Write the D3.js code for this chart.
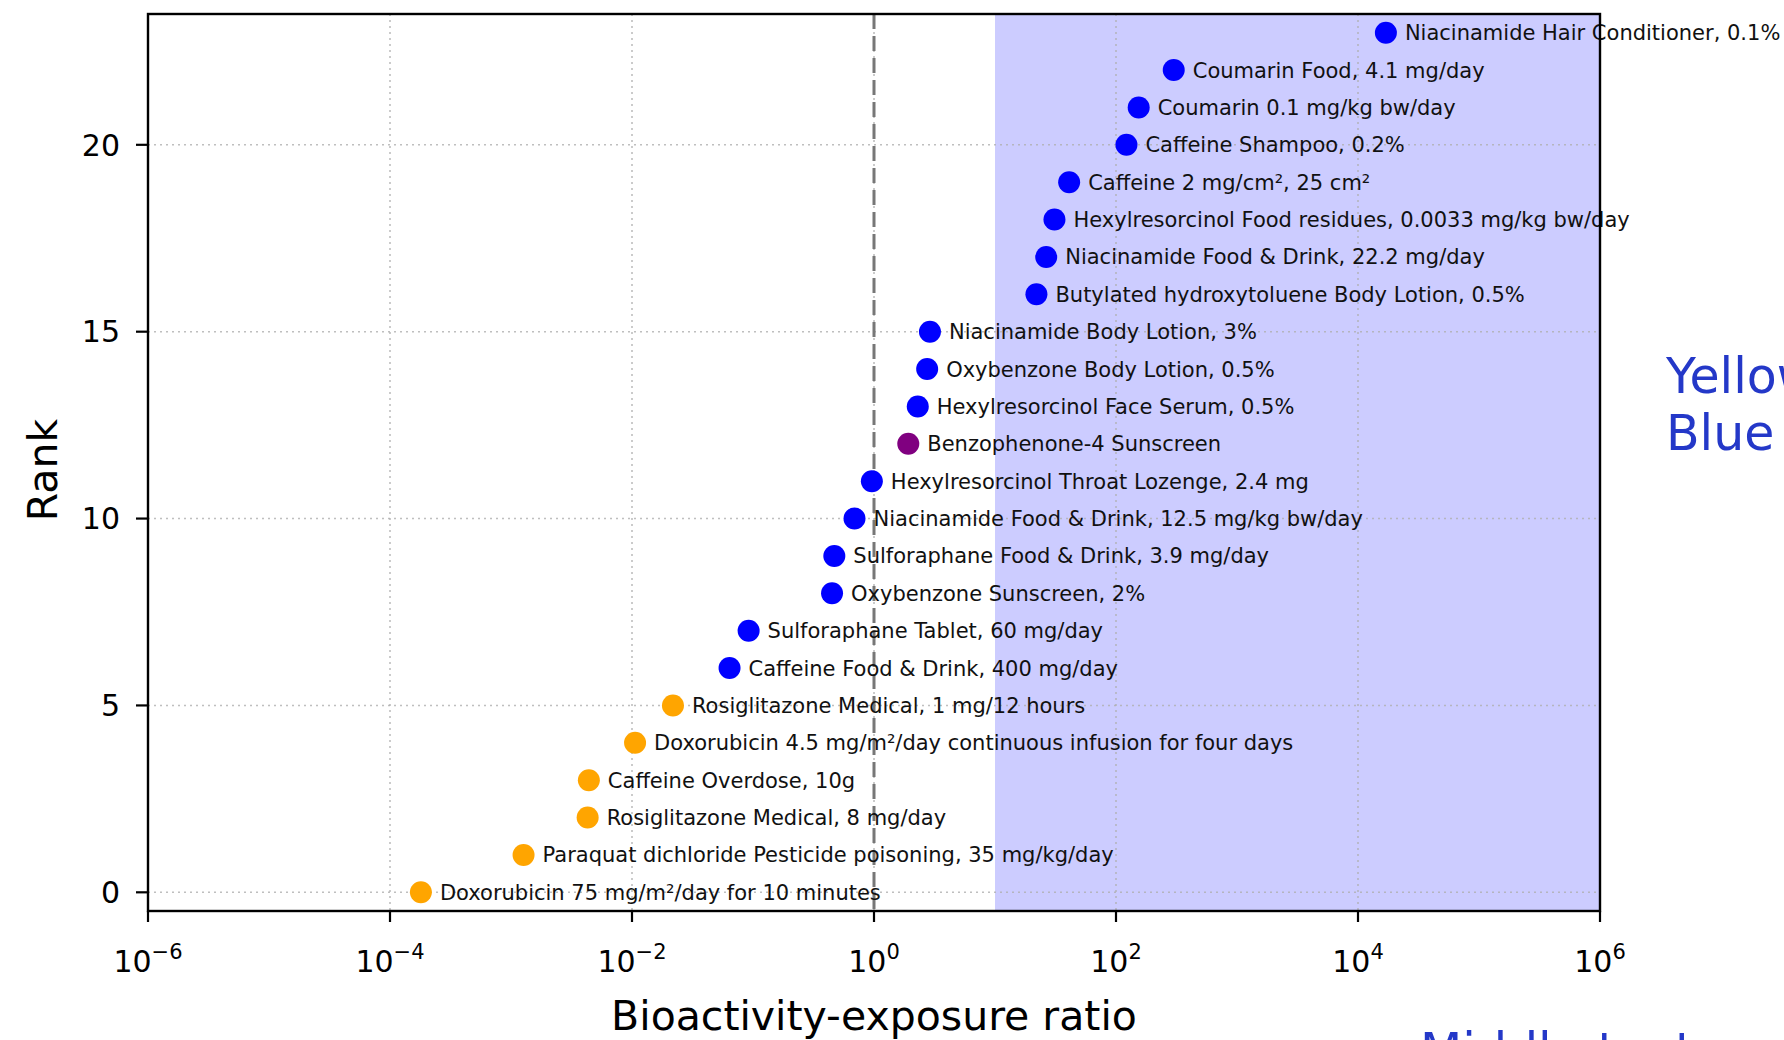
<!DOCTYPE html>
<html>
<head>
<meta charset="utf-8">
<script src="https://cdn.jsdelivr.net/npm/d3@7"></script>
<style>
  html, body { margin: 0; padding: 0; background: #ffffff; }
  svg { display: block; }
  text { font-family: "DejaVu Sans", sans-serif; }
</style>
</head>
<body>
<svg id="chart" width="1784" height="1040"></svg>
<script>
// Exposure scenarios, ordered by rank (0 = lowest ratio)
const scenarioLabels = [
  "Doxorubicin 75 mg/m²/day for 10 minutes",
  "Paraquat dichloride Pesticide poisoning, 35 mg/kg/day",
  "Rosiglitazone Medical, 8 mg/day",
  "Caffeine Overdose, 10g",
  "Doxorubicin 4.5 mg/m²/day continuous infusion for four days",
  "Rosiglitazone Medical, 1 mg/12 hours",
  "Caffeine Food & Drink, 400 mg/day",
  "Sulforaphane Tablet, 60 mg/day",
  "Oxybenzone Sunscreen, 2%",
  "Sulforaphane Food & Drink, 3.9 mg/day",
  "Niacinamide Food & Drink, 12.5 mg/kg bw/day",
  "Hexylresorcinol Throat Lozenge, 2.4 mg",
  "Benzophenone-4 Sunscreen",
  "Hexylresorcinol Face Serum, 0.5%",
  "Oxybenzone Body Lotion, 0.5%",
  "Niacinamide Body Lotion, 3%",
  "Butylated hydroxytoluene Body Lotion, 0.5%",
  "Niacinamide Food & Drink, 22.2 mg/day",
  "Hexylresorcinol Food residues, 0.0033 mg/kg bw/day",
  "Caffeine 2 mg/cm², 25 cm²",
  "Caffeine Shampoo, 0.2%",
  "Coumarin 0.1 mg/kg bw/day",
  "Coumarin Food, 4.1 mg/day",
  "Niacinamide Hair Conditioner, 0.1%"
];

// Bioactivity-exposure ratio for each scenario
const berValues = [
  1.8e-4, 1.27e-3, 4.3e-3, 4.4e-3, 0.0106, 0.0218, 0.064, 0.092,
  0.45, 0.47, 0.69, 0.96, 1.92, 2.3, 2.75, 2.9,
  22, 26.5, 31, 41, 122, 154, 300, 17000
];

// Marker colour class per scenario
const pointColors = [
  "orange", "orange", "orange", "orange", "orange", "orange",
  "blue", "blue", "blue", "blue", "blue", "blue",
  "purple",
  "blue", "blue", "blue", "blue", "blue", "blue", "blue", "blue", "blue", "blue", "blue"
];

const xTickValues = [1e-6, 1e-4, 1e-2, 1e0, 1e2, 1e4, 1e6];
const yTickValues = [0, 5, 10, 15, 20];
const shadeRange = [10, 1e6];
const referenceRatio = 1;

const sideNotes = ["Yellow", "Blue"];
const bottomNote = "Middle text and";

const svg = d3.select("#chart");
const plot = { left: 148, right: 1600, top: 14, bottom: 911 };

const x = d3.scaleLog().domain([1e-6, 1e6]).range([plot.left, plot.right]);
const y = d3.scaleLinear().domain([-0.5, 23.5]).range([plot.bottom, plot.top]);

svg.append("clipPath").attr("id", "plot-clip")
  .append("rect")
  .attr("x", plot.left).attr("y", plot.top)
  .attr("width", plot.right - plot.left).attr("height", plot.bottom - plot.top);

// Shaded band
svg.append("rect")
  .attr("x", x(shadeRange[0]))
  .attr("y", plot.top)
  .attr("width", x(shadeRange[1]) - x(shadeRange[0]))
  .attr("height", plot.bottom - plot.top)
  .attr("fill", "#ccccff");

// Dotted grid
const grid = svg.append("g").attr("clip-path", "url(#plot-clip)");
grid.selectAll("line.gx").data(xTickValues).join("line")
  .attr("x1", d => x(d)).attr("x2", d => x(d))
  .attr("y1", plot.top).attr("y2", plot.bottom)
  .attr("stroke", "#b0b0b0").attr("stroke-width", 1.6)
  .attr("stroke-dasharray", "2,4").attr("opacity", 0.8);
grid.selectAll("line.gy").data(yTickValues).join("line")
  .attr("x1", plot.left).attr("x2", plot.right)
  .attr("y1", d => y(d)).attr("y2", d => y(d))
  .attr("stroke", "#b0b0b0").attr("stroke-width", 1.6)
  .attr("stroke-dasharray", "2,4").attr("opacity", 0.8);

// Reference line at ratio = 1
svg.append("line")
  .attr("x1", x(referenceRatio)).attr("x2", x(referenceRatio))
  .attr("y1", plot.top).attr("y2", plot.bottom)
  .attr("stroke", "#777").attr("stroke-width", 3)
  .attr("stroke-dasharray", "15,7");

// Points
svg.append("g").selectAll("circle").data(berValues).join("circle")
  .attr("cx", d => x(d))
  .attr("cy", (d, i) => y(i))
  .attr("r", 11)
  .attr("fill", (d, i) => pointColors[i]);

// Point labels
svg.append("g").selectAll("text").data(berValues).join("text")
  .attr("x", d => x(d) + 19)
  .attr("y", (d, i) => y(i))
  .attr("dy", "0.36em")
  .attr("font-size", 21)
  .attr("fill", "#111")
  .text((d, i) => scenarioLabels[i]);

// Spines
svg.append("rect")
  .attr("x", plot.left).attr("y", plot.top)
  .attr("width", plot.right - plot.left).attr("height", plot.bottom - plot.top)
  .attr("fill", "none").attr("stroke", "#000").attr("stroke-width", 2.4);

// X axis
const xAxis = svg.append("g");
xAxis.selectAll("line").data(xTickValues).join("line")
  .attr("x1", d => x(d)).attr("x2", d => x(d))
  .attr("y1", plot.bottom).attr("y2", plot.bottom + 11)
  .attr("stroke", "#000").attr("stroke-width", 2.2);
const xLabels = xAxis.selectAll("text").data(xTickValues).join("text")
  .attr("x", d => x(d))
  .attr("y", 972)
  .attr("text-anchor", "middle")
  .attr("font-size", 30)
  .attr("fill", "#000");
xLabels.append("tspan").text("10");
xLabels.append("tspan")
  .attr("font-size", 21)
  .attr("dy", -13)
  .text(d => {
    const e = Math.round(Math.log10(d));
    return e < 0 ? "\u2212" + Math.abs(e) : String(e);
  });

// Y axis
const yAxis = svg.append("g");
yAxis.selectAll("line").data(yTickValues).join("line")
  .attr("x1", plot.left - 12).attr("x2", plot.left)
  .attr("y1", d => y(d)).attr("y2", d => y(d))
  .attr("stroke", "#000").attr("stroke-width", 2.2);
yAxis.selectAll("text").data(yTickValues).join("text")
  .attr("x", 120)
  .attr("y", d => y(d))
  .attr("dy", "0.36em")
  .attr("text-anchor", "end")
  .attr("font-size", 30)
  .attr("fill", "#000")
  .text(d => d);

// Axis titles
svg.append("text")
  .attr("x", (plot.left + plot.right) / 2)
  .attr("y", 1030)
  .attr("text-anchor", "middle")
  .attr("font-size", 41)
  .attr("fill", "#000")
  .text("Bioactivity-exposure ratio");

svg.append("text")
  .attr("transform", "translate(57,470) rotate(-90)")
  .attr("text-anchor", "middle")
  .attr("font-size", 41)
  .attr("fill", "#000")
  .text("Rank");

// Side notes
svg.append("g").selectAll("text").data(sideNotes).join("text")
  .attr("x", 1666)
  .attr("y", (d, i) => 393 + i * 57)
  .attr("font-family", "Lato, sans-serif")
  .attr("font-size", 49)
  .attr("fill", "#2438c8")
  .text(d => d);

svg.append("text")
  .attr("x", 1420)
  .attr("y", 1068)
  .attr("font-family", "Lato, sans-serif")
  .attr("font-size", 49)
  .attr("fill", "#2438c8")
  .text(bottomNote);
</script>
</body>
</html>
